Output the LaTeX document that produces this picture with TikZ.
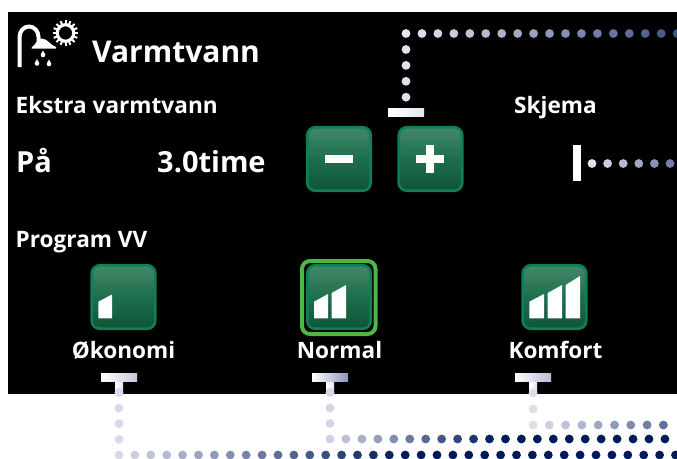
\documentclass[tikz,border=0pt]{standalone}
\usepackage{fontspec}
\setmainfont{Open Sans}[BoldFont={Open Sans Bold}]
\usetikzlibrary{calc}
\definecolor{navy}{HTML}{001A5C}
\definecolor{pale}{HTML}{E6E6F2}
\definecolor{btnedge}{HTML}{0F7F58}
\definecolor{btntop}{HTML}{438869}
\definecolor{btnmid}{HTML}{1D6E4C}
\definecolor{btnbot}{HTML}{0E5535}
\definecolor{ringgreen}{HTML}{4DB848}
\definecolor{barone}{HTML}{C8C8DE}
\definecolor{bartwo}{HTML}{8F94BE}
\definecolor{barthree}{HTML}{B9BBD4}
\tikzset{
  screen/.style={fill=black,draw=none},
  label/.style={text=white,inner sep=0pt,anchor=base west},
  small/.style={font=\bfseries\fontsize{22.6}{24}\selectfont},
  big/.style={font=\bfseries\fontsize{29}{31}\selectfont},
  tbar/.style={minimum width=36pt,minimum height=8.4pt,inner sep=0pt,draw=none,left color=white,right color=#1},
  pushbtn/.style={minimum size=63.5pt,inner sep=0pt,rounded corners=8pt,draw=btnedge,line width=2.6pt,
     top color=btntop,bottom color=btnbot,middle color=btnmid},
  icon/.style={fill=white,draw=none},
}
% x0 y0 dx dy count startpct endpct
\newcommand{\dotrun}[7]{%
  \foreach \i in {1,...,#5}{%
    \pgfmathsetmacro{\pct}{min(100,#6+(#7-#6)*(\i-1)/max(1,#5-1))}%
    \pgfmathsetmacro{\px}{#1+#3*(\i-1)}%
    \pgfmathsetmacro{\py}{#2+#4*(\i-1)}%
    \fill[navy!\pct!pale] (\px,\py) circle[radius=4.4pt];%
  }%
}
\newcommand{\droplet}[2]{\fill[white] (#1,#2-4.6) -- (#1+2.1,#2-0.6) arc[start angle=-20,end angle=-160,radius=2.3] -- cycle;\fill[white] (#1,#2) circle[radius=2.3];}
\begin{document}
\begin{tikzpicture}[x=1pt,y=-1pt]
\useasboundingbox (0,0) rectangle (677,458);
\fill[white] (0,0) rectangle (677,458);
\fill[screen] (8,12) rectangle (677,394);

% connectors' dots
\dotrun{406}{33.5}{15.95}{0}{18}{0}{72}
\dotrun{406}{49.5}{0}{15.9}{4}{2}{2}
\dotrun{592}{163.5}{15.6}{0}{6}{2}{50}
% stems
\fill[left color=white,right color=pale] (115,381) rectangle (123,394);
\fill[left color=white,right color=pale] (326,381) rectangle (334,394);
\fill[left color=white,right color=pale] (529,381) rectangle (537,394);
\dotrun{119}{392.5}{0}{15.6}{4}{6}{6}
\dotrun{330}{392.5}{0}{15.5}{3}{8}{8}
\dotrun{533}{393}{0}{16}{2}{4}{4}
\dotrun{119}{455}{15.9}{0}{36}{6}{190}
\dotrun{330}{439}{15.95}{0}{22}{10}{190}
\dotrun{533}{425}{16.3}{0}{9}{4}{58}

% bars
\node[tbar=pale] (barplus) at (406,112.5) {};
\fill[white] (573,145) rectangle (581,181);
\node[tbar=barone] (barok) at (119,377.5) {};
\node[tbar=bartwo] (barno) at (330,377.5) {};
\node[tbar=barthree] (barko) at (533,377.5) {};

% buttons
\node[pushbtn] (minus) at (339,159) {};
\node[pushbtn] (plus) at (430.5,159) {};
\fill[icon] (324.7,155) rectangle (352.7,163);
\fill[icon] (416,155) rectangle (444,163);
\fill[icon] (426,145) rectangle (434,173);
\node[pushbtn] (oko) at (123.5,297) {};
\node[pushbtn] (nor) at (339,297) {};
\node[pushbtn] (kom) at (554.5,297) {};
\draw[ringgreen,line width=4pt,rounded corners=8pt] (302,261) rectangle (375.5,334);
% level bars
\fill[icon] (98.3,301.7) -- (112,294.5) -- (112,318.3) -- (98.3,318.3) -- cycle;
\fill[icon] (314,301.7) -- (328,294) -- (328,318.3) -- (314,318.3) -- cycle;
\fill[icon] (331.7,293) -- (346,285) -- (346,318.3) -- (331.7,318.3) -- cycle;
\fill[icon] (529.3,301.7) -- (544,294) -- (544,318.3) -- (529.3,318.3) -- cycle;
\fill[icon] (547.7,293) -- (562,285) -- (562,318.3) -- (547.7,318.3) -- cycle;
\fill[icon] (565.7,285) -- (580,276) -- (580,318.3) -- (565.7,318.3) -- cycle;

% shower icon
\draw[white,line width=4pt] (19.5,67) -- (19.5,37) arc[start angle=180,end angle=360,x radius=9.5,y radius=10.5] -- (38.5,42);
\fill[icon] (31.5,48.5) -- (32,47) .. controls (36,45) and (36,39) .. (42,38.5) .. controls (48,39) and (50,45) .. (56,47) -- (56,48.5) -- cycle;
\draw[white,line width=3.2pt] (65.5,33) circle[radius=8.3];
\foreach \a in {0,22.5,...,337.5}{\draw[white,line width=2pt] ($(65.5,33)+(\a:8)$) -- ($(65.5,33)+(\a:12.8)$);}
\droplet{43}{55}
\droplet{37}{63.5}
\droplet{49}{64}

% texts
\node[label,font=\bfseries\fontsize{30}{32}\selectfont] (title) at (92,62) {Varmtvann};
\node[label,small] (ekstra) at (15.5,113) {Ekstra varmtvann};
\node[label,small] (skjema) at (514,113) {Skjema};
\node[label,big] (paa) at (16,172) {På};
\node[label,big] (time) at (157,172) {3.0time};
\node[label,small] (prog) at (15.5,247) {Program VV};
\node[label,small,anchor=base] (lok) at (123.5,358) {Økonomi};
\node[label,small,anchor=base] (lno) at (339.5,358) {Normal};
\node[label,small,anchor=base] (lko) at (555.5,358) {Komfort};
\end{tikzpicture}
\end{document}
